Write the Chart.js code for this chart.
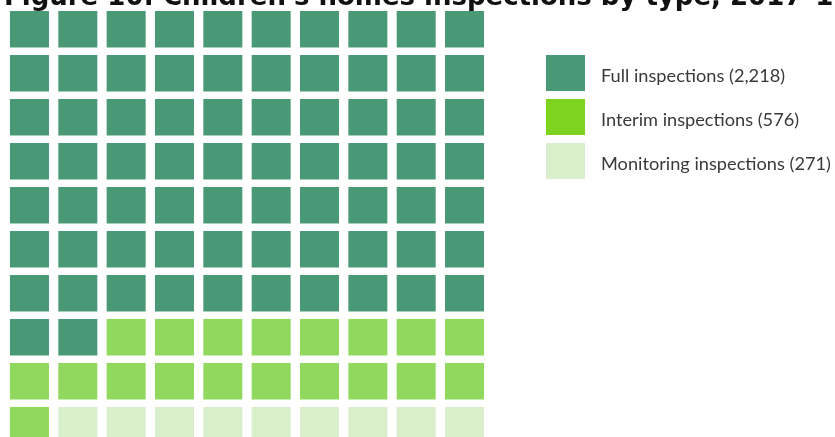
<!DOCTYPE html>
<html>
<head>
<meta charset="utf-8">
<script src="https://cdn.jsdelivr.net/npm/chart.js@4.4.1/dist/chart.umd.min.js"></script>
<style>
    html, body { margin: 0; padding: 0; background: #fff; overflow: hidden; }
    body { width: 835px; height: 437px; position: relative; }
    #title {
        position: absolute; left: 4px; top: -17px; white-space: nowrap;
        font: bold 26px/26px "DejaVu Sans", Verdana, sans-serif; color: #111;
    }
    #wrap { position: absolute; left: 0; top: 0; width: 835px; height: 460px; }
    #legend { position: absolute; left: 546px; top: 55px; font-family: Lato, sans-serif; }
    .item { display: flex; align-items: center; height: 36px; margin-bottom: 8px; }
    .box { width: 39px; height: 36px; margin-right: 16px; }
    .label { font-size: 18.2px; color: #3a3a3a; position: relative; top: 2px; }
</style>
</head>
<body>
<div id="wrap"><canvas id="chart_waffle"></canvas></div>
<div id="title">Figure 10: Children's homes inspections by type, 2017–18</div>
<div id="legend"></div>
<script>
const categories = ['Full inspections', 'Interim inspections', 'Monitoring inspections'];
const inspections = [2218, 576, 271];
const squares = [72, 19, 9];           // squares out of 100
const cellColors = ['#4a9976', '#91d95e', '#d9eecb'];
const legendColors = ['#4a9976', '#7ed321', '#d9eecb'];
const columnLabels = ['1', '2', '3', '4', '5', '6', '7', '8', '9', '10'];
const rowCount = 10;

document.addEventListener('DOMContentLoaded', function(){
    // which category each of the 100 squares belongs to, filled row by row
    let cellCategory = [];
    squares.forEach((n, i) => {
        for (let k = 0; k < n; k++) cellCategory.push(i);
    });

    const gap = 0.085;
    let datasets = [];
    for (let r = 0; r < rowCount; r++) {
        datasets.push({
            label: 'Row ' + (r + 1),
            data: columnLabels.map(() => [r + gap, r + 1 - gap]),
            backgroundColor: columnLabels.map((c, col) => cellColors[cellCategory[r * 10 + col]]),
            categoryIndex: columnLabels.map((c, col) => cellCategory[r * 10 + col]),
            borderWidth: 0
        });
    }

    new Chart(document.querySelector('#chart_waffle'), {
        type: 'bar',
        data: {
            labels: columnLabels,
            datasets: datasets
        },
        options: {
            responsive: true,
            maintainAspectRatio: false,
            animation: false,
            grouped: false,
            categoryPercentage: 1,
            barPercentage: 0.807,
            layout: {
                padding: { left: 5.3, top: 7.3, right: 346.3, bottom: 12.7 }
            },
            scales: {
                x: { display: false, offset: true },
                y: { display: false, min: 0, max: rowCount, reverse: true }
            },
            plugins: {
                legend: { display: false },
                title: { display: false },
                tooltip: {
                    callbacks: {
                        title: () => '',
                        label: ctx => {
                            const i = ctx.dataset.categoryIndex[ctx.dataIndex];
                            return `${categories[i]} (${inspections[i].toLocaleString('en-GB')})`;
                        }
                    }
                }
            }
        }
    });

    const legend = document.getElementById('legend');
    categories.forEach((name, i) => {
        legend.insertAdjacentHTML('beforeend',
            `<div class="item"><div class="box" style="background:${legendColors[i]}"></div>` +
            `<span class="label">${name} (${inspections[i].toLocaleString('en-GB')})</span></div>`);
    });
});
</script>
</body>
</html>
